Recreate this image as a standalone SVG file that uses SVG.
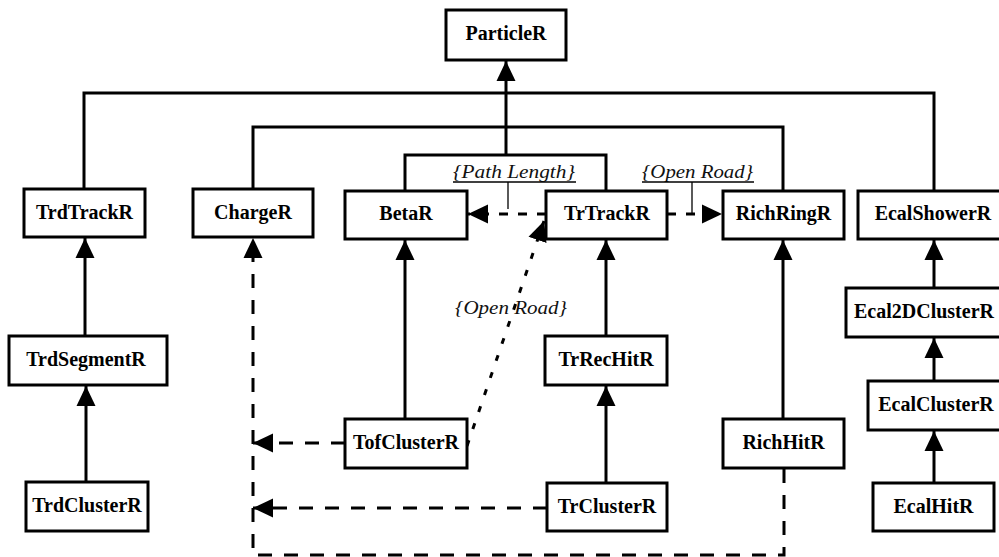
<svg xmlns="http://www.w3.org/2000/svg" width="999" height="557" viewBox="0 0 999 557">
<style>
.box{fill:#fff;stroke:#000;stroke-width:3}
.lbl{font-family:"Liberation Serif","Times New Roman",serif;font-weight:bold;font-size:20px;text-anchor:middle;fill:#000}
.c{fill:none;stroke:#000;stroke-width:3}
.d{stroke-dasharray:14 12}
.ds{stroke-dasharray:9 10}
.dd{stroke-dasharray:6 12}
.note{font-family:"Liberation Serif","Times New Roman",serif;font-style:italic;font-size:19px;fill:#111}
.thin{fill:none;stroke:#000;stroke-width:1.3}
</style>
<defs>
<marker id="tri" viewBox="0 0 20 20" markerUnits="userSpaceOnUse" markerWidth="20" markerHeight="20" refX="20" refY="10" orient="auto">
<path d="M0,0.5 L20,10 L0,19.5 Z" fill="#000"/>
</marker>
</defs>
<rect width="999" height="557" fill="#fff"/>
<g id="connectors">
<path class="c" d="M506,155 V61" marker-end="url(#tri)"/>
<path class="c" d="M84,189 V93 H934 V191"/>
<path class="c" d="M253,189 V127 H783 V191"/>
<path class="c" d="M405,191 V155 H606 V191"/>
<path class="c" d="M85,336 V238" marker-end="url(#tri)"/>
<path class="c" d="M86,482 V386" marker-end="url(#tri)"/>
<path class="c" d="M405,419 V240" marker-end="url(#tri)"/>
<path class="c" d="M606,336 V240" marker-end="url(#tri)"/>
<path class="c" d="M606,483 V386" marker-end="url(#tri)"/>
<path class="c" d="M783,419 V240" marker-end="url(#tri)"/>
<path class="c" d="M934,288 V240" marker-end="url(#tri)"/>
<path class="c" d="M934,381 V338" marker-end="url(#tri)"/>
<path class="c" d="M934,483 V431" marker-end="url(#tri)"/>
<path class="c ds" d="M546,214 H468" marker-end="url(#tri)"/>
<path class="c ds" d="M667,214 H722" marker-end="url(#tri)"/>
<path class="c dd" d="M467,446 L544,221" marker-end="url(#tri)"/>
<path class="c d" d="M345,443 H253" marker-end="url(#tri)"/>
<path class="c d" d="M547,508 H253" marker-end="url(#tri)"/>
<path class="c d" d="M784,469 V555 H253 V238" marker-end="url(#tri)"/>
<path class="thin" d="M508,182 V209"/>
<path class="thin" d="M692,182 V214"/>
</g>
<g id="notes">
<text class="note" x="453" y="178" textLength="122" lengthAdjust="spacingAndGlyphs">{Path Length}</text>
<line class="thin" x1="453" y1="182" x2="576" y2="182"/>
<text class="note" x="642" y="178" textLength="111" lengthAdjust="spacingAndGlyphs">{Open Road}</text>
<line class="thin" x1="642" y1="182" x2="754" y2="182"/>
<text class="note" x="455" y="314" textLength="112" lengthAdjust="spacingAndGlyphs">{Open Road}</text>
</g>
<g id="ParticleR"><rect class="box" x="446" y="10" width="120" height="50"/><text class="lbl" x="506" y="40">ParticleR</text></g>
<g id="TrdTrackR"><rect class="box" x="24" y="189" width="121" height="48"/><text class="lbl" x="84.5" y="219">TrdTrackR</text></g>
<g id="ChargeR"><rect class="box" x="193" y="189" width="120" height="48"/><text class="lbl" x="253" y="219">ChargeR</text></g>
<g id="BetaR"><rect class="box" x="345" y="191" width="122" height="48"/><text class="lbl" x="406" y="220">BetaR</text></g>
<g id="TrTrackR"><rect class="box" x="546" y="191" width="121" height="48"/><text class="lbl" x="607" y="220">TrTrackR</text></g>
<g id="RichRingR"><rect class="box" x="723" y="191" width="121" height="48"/><text class="lbl" x="783.5" y="220">RichRingR</text></g>
<g id="EcalShowerR"><rect class="box" x="858" y="191" width="152" height="48"/><text class="lbl" x="933" y="220">EcalShowerR</text></g>
<g id="TrdSegmentR"><rect class="box" x="9" y="336" width="158" height="49"/><text class="lbl" x="86" y="366">TrdSegmentR</text></g>
<g id="Ecal2DClusterR"><rect class="box" x="846" y="288" width="158" height="49"/><text class="lbl" x="924" y="318">Ecal2DClusterR</text></g>
<g id="TrRecHitR"><rect class="box" x="545" y="336" width="122" height="49"/><text class="lbl" x="606" y="366">TrRecHitR</text></g>
<g id="EcalClusterR"><rect class="box" x="868" y="381" width="138" height="49"/><text class="lbl" x="936" y="411">EcalClusterR</text></g>
<g id="TofClusterR"><rect class="box" x="345" y="419" width="122" height="49"/><text class="lbl" x="406" y="449">TofClusterR</text></g>
<g id="RichHitR"><rect class="box" x="723" y="419" width="121" height="49"/><text class="lbl" x="783.5" y="449">RichHitR</text></g>
<g id="TrdClusterR"><rect class="box" x="26" y="482" width="122" height="49"/><text class="lbl" x="87" y="512">TrdClusterR</text></g>
<g id="TrClusterR"><rect class="box" x="547" y="483" width="120" height="48"/><text class="lbl" x="607" y="513">TrClusterR</text></g>
<g id="EcalHitR"><rect class="box" x="873" y="483" width="121" height="48"/><text class="lbl" x="933.5" y="513">EcalHitR</text></g>
</svg>
